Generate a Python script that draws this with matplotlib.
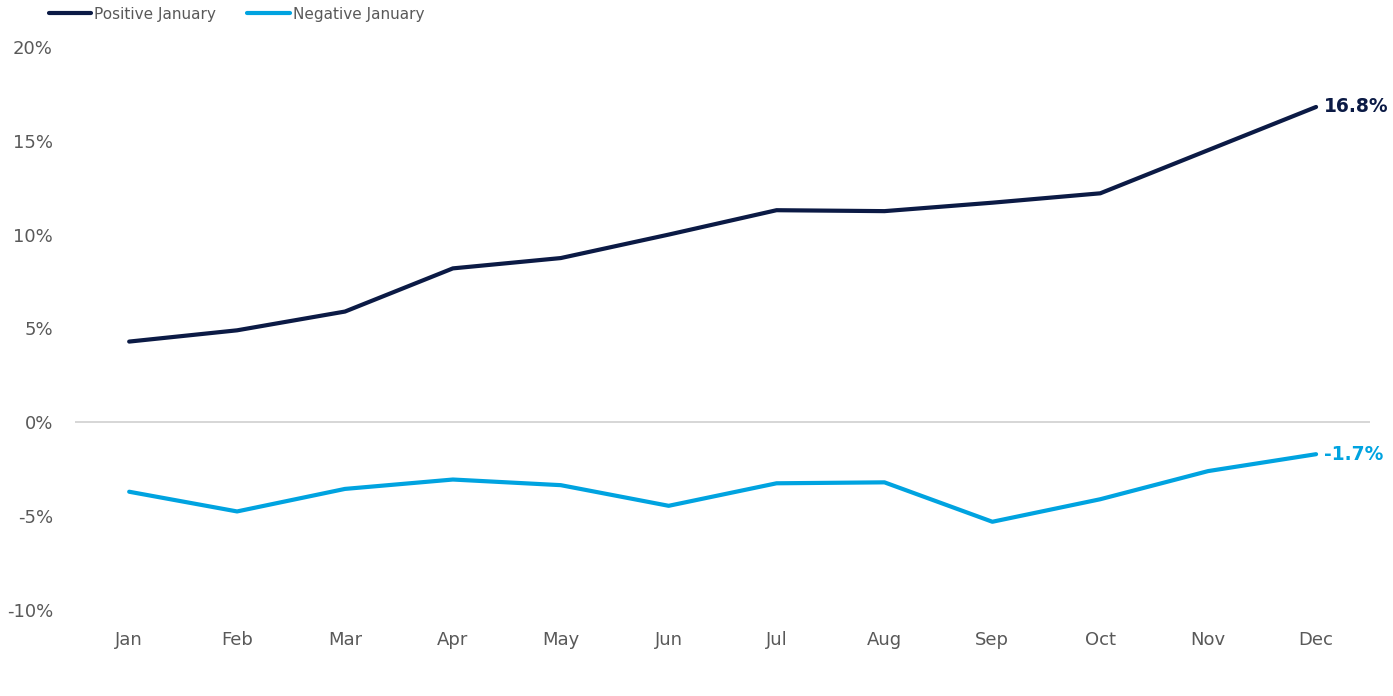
import matplotlib.pyplot as plt
from matplotlib.ticker import FuncFormatter

months = ["Jan", "Feb", "Mar", "Apr", "May", "Jun", "Jul", "Aug", "Sep", "Oct", "Nov", "Dec"]
positive_jan = [4.3, 4.9, 5.9, 8.2, 8.75, 10.0, 11.3, 11.25, 11.7, 12.2, 14.5, 16.8]
negative_jan = [-3.7, -4.75, -3.55, -3.05, -3.35, -4.45, -3.25, -3.2, -5.3, -4.1, -2.6, -1.7]

NAVY = "#0b1a45"
SKY = "#00a3e0"
GREY = "#595959"

plt.rcParams["font.family"] = ["DejaVu Sans"]

fig = plt.figure(figsize=(13.93, 6.96), dpi=100)
ax = fig.add_axes([0.054, 0.1236, 0.9295, 0.809])

x = list(range(len(months)))
ax.plot(x, positive_jan, color=NAVY, lw=3, label="Positive January", solid_capstyle="round")
ax.plot(x, negative_jan, color=SKY, lw=3, label="Negative January", solid_capstyle="round")

# end-of-line value labels
for series, col in [(positive_jan, NAVY), (negative_jan, SKY)]:
    ax.annotate(f"{series[-1]:.1f}%", (x[-1], series[-1]), xytext=(6, 0),
                textcoords="offset points", va="center", ha="left",
                color=col, fontsize=13.5, fontweight="bold")

ax.axhline(0, color="#d0d0d0", lw=1.2, zorder=0)

ax.set_xlim(-0.5, 11.5)
ax.set_ylim(-10, 20)
ax.set_yticks([-10, -5, 0, 5, 10, 15, 20])
ax.yaxis.set_major_formatter(FuncFormatter(lambda v, p: f"{v:.0f}%"))
ax.set_xticks(x)
ax.set_xticklabels(months)
ax.tick_params(axis="both", length=0, labelsize=13, colors=GREY)
ax.tick_params(axis="x", pad=15)
ax.tick_params(axis="y", pad=16)
for s in ax.spines.values():
    s.set_visible(False)

fig.legend(loc="upper left", bbox_to_anchor=(0.025, 1.01), ncol=2, frameon=False,
           fontsize=11, labelcolor=GREY, handlelength=2.8, handletextpad=0.2,
           columnspacing=2.0)

fig.savefig("out.png", dpi=100, facecolor="white")
